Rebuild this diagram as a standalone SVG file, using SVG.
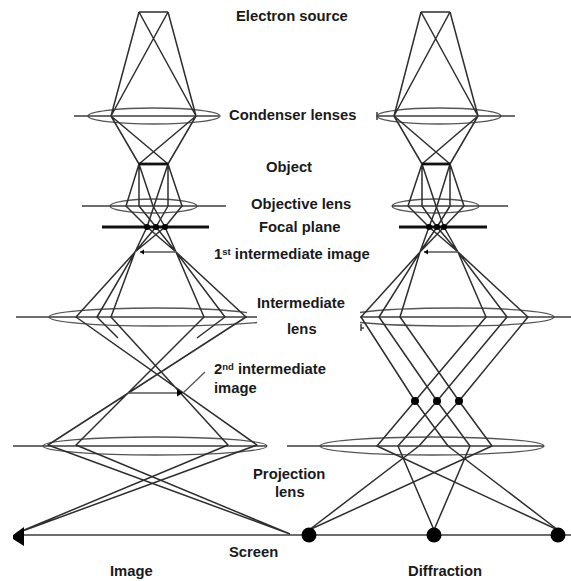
<svg xmlns="http://www.w3.org/2000/svg" width="571" height="581" viewBox="0 0 571 581">
<style>
.r{fill:none;stroke:#2e2e2e;stroke-width:1.5;stroke-linejoin:round}
.l{fill:none;stroke:#555;stroke-width:1.3}
.ax{fill:none;stroke:#3c3c3c;stroke-width:1.5}
.th{fill:none;stroke:#111;stroke-width:2.8}
.d{fill:#000}
.g{fill:none;stroke:#555;stroke-width:1.3}
text{font-family:"Liberation Sans",Arial,sans-serif;font-weight:700;font-size:14.800px;fill:#1a1a1a}
.s{font-size:9.500px}
</style>
<rect width="571" height="581" fill="#fff"/>
<g id="lenses">
<g id="condenser-image"><ellipse class="l" cx="154" cy="116" rx="66" ry="8"/><path class="ax" d="M74 116H219"/></g>
<g id="condenser-diffraction"><ellipse class="l" cx="439" cy="116" rx="62" ry="8"/><path class="ax" d="M377 116H515M377 112V120"/></g>
<g id="objective-image"><ellipse class="l" cx="153.500" cy="206" rx="43.500" ry="7"/><path class="ax" d="M82 206H226"/></g>
<g id="objective-diffraction"><ellipse class="l" cx="435.500" cy="206" rx="43.500" ry="7"/><path class="ax" d="M392 206H508"/></g>
<g id="intermediate-image"><path class="l" d="M247 312.700C225 309.500 190 308 155 308C95 308 49 312 49 317C49 322 95 326 155 326C195 326 230 325 257 322.500"/><path class="ax" d="M16 317H257"/></g>
<g id="intermediate-diffraction"><path class="l" d="M360 312.500C380 309.500 420 308 457 308C510 308 554 312 554 317C554 322 510 326 457 326C420 326 385 325 360 322.500"/><path class="ax" d="M360 317H571"/><path class="ax" d="M361 324V331M361 328H364"/></g>
<g id="projection-image"><ellipse class="l" cx="155" cy="446" rx="112" ry="9"/><path class="ax" d="M13 446H267"/></g>
<g id="projection-diffraction"><ellipse class="l" cx="432" cy="446" rx="112" ry="9"/><path class="ax" d="M287 446H544"/></g>
</g>
<g id="connectors">
<path class="r" d="M139 12H168M139 12L111 116M139 12L196 116M168 12L196 116M168 12L111 116"/>
<path class="r" d="M111 116L139 164M111 116L168 164M196 116L168 164M196 116L139 164"/>
<path class="r" d="M139 164L126 206L147 227L176 252M139 164V206L156 227L176 252M139 164L153 206L165 227L176 252"/>
<path class="r" d="M168 164L182 206L165 227L135 252M168 164V206L156 227L135 252M168 164L154 206L147 227L135 252"/>
<path class="r" d="M135 252L76 317L257 445L17 533M135 252L97 317L118 338M135 252L111 317L228 445L17 533"/>
<path class="r" d="M176 252L246 317L48 445L290 534M176 252L225 317L197 338M176 252L204 317L76 445L290 534"/>
<path class="g" d="M128 393H180M176 252H140M205 372L183 393"/>
<path class="r" d="M421 12H450M421 12L394 116M421 12L478 116M450 12L478 116M450 12L394 116"/>
<path class="r" d="M394 116L422 164M394 116L450 164M478 116L450 164M478 116L422 164"/>
<path class="r" d="M422 164L408 206L429 227L458 252M422 164V206L437 227L458 252M422 164L436 206L444 227L458 252"/>
<path class="r" d="M450 164L464 206L444 227L420 252M450 164V206L437 227L420 252M450 164L437 206L429 227L420 252"/>
<path class="r" d="M420 252L361 317L415 401L448 446L558 530M420 252L379 317L437 401L470 446L434 530M420 252L400 317L459 401L492 446L309 530"/>
<path class="r" d="M458 252L528 317L459 401L419 446L309 530M458 252L507 317L437 401L398 446L434 530M458 252L486 317L415 401L377 446L558 530"/>
<path class="g" d="M458 252H424"/>
<path class="ax" d="M15 535H571"/>
</g>
<g id="object-image"><path class="th" d="M139 164H168"/></g>
<g id="object-diffraction"><path class="th" d="M422 164H450"/></g>
<g id="focal-plane-image"><path class="th" d="M102 227H209"/><circle class="d" cx="147" cy="227" r="3"/><circle class="d" cx="156" cy="227" r="3"/><circle class="d" cx="165" cy="227" r="3"/></g>
<g id="focal-plane-diffraction"><path class="th" d="M399 227H487"/><circle class="d" cx="429" cy="227" r="3"/><circle class="d" cx="437" cy="227" r="3"/><circle class="d" cx="444" cy="227" r="3"/></g>
<g id="image-arrows"><path class="d" d="M140 252L144 249.500V254.500Z"/><path class="d" d="M424 252L428 249.500V254.500Z"/><path class="d" d="M183 393L177 389.500V396.500Z"/></g>
<g id="diffraction-spots"><circle class="d" cx="415" cy="401" r="4"/><circle class="d" cx="437" cy="401" r="4"/><circle class="d" cx="459" cy="401" r="4"/></g>
<g id="screen-image"><path class="d" d="M13 535L24 527V546L13 539Z"/></g>
<g id="screen-diffraction"><circle class="d" cx="309" cy="535" r="7.500"/><circle class="d" cx="434" cy="535" r="7.500"/><circle class="d" cx="558" cy="535" r="7.500"/></g>
<g id="labels">
<text x="236" y="21">Electron source</text>
<text x="229" y="120">Condenser lenses</text>
<text x="266" y="172">Object</text>
<text x="251" y="209">Objective lens</text>
<text x="259" y="232">Focal plane</text>
<text x="214" y="259">1<tspan class="s" dy="-4">st</tspan><tspan dy="4"> intermediate image</tspan></text>
<text x="257" y="308">Intermediate</text>
<text x="287" y="334">lens</text>
<text x="214" y="374">2<tspan class="s" dy="-4">nd</tspan><tspan dy="4"> intermediate</tspan></text>
<text x="214" y="393">image</text>
<text x="253" y="479">Projection</text>
<text x="275" y="497">lens</text>
<text x="229" y="557">Screen</text>
<text x="110" y="576">Image</text>
<text x="408" y="576">Diffraction</text>
</g>
</svg>
